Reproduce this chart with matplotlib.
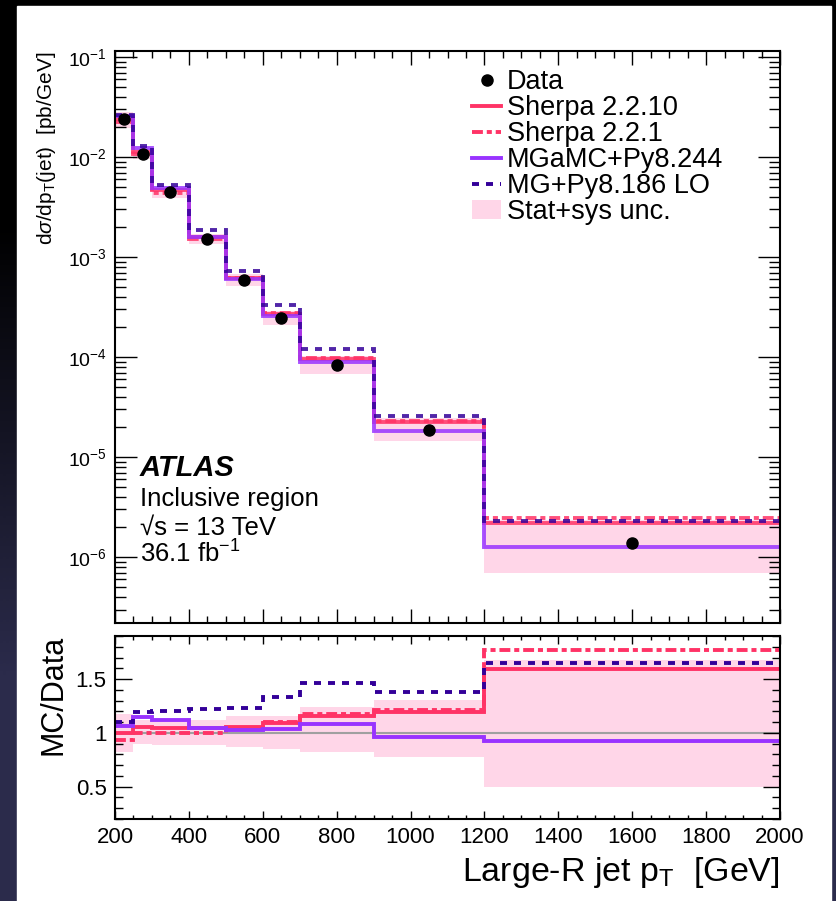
import numpy as np
import matplotlib
matplotlib.use("Agg")
import matplotlib.pyplot as plt
from matplotlib.colors import LinearSegmentedColormap
from matplotlib.lines import Line2D
from matplotlib.patches import Patch, Rectangle
from matplotlib.ticker import MultipleLocator, FuncFormatter

plt.rcParams['font.family'] = ['Liberation Sans', 'DejaVu Sans']
plt.rcParams['mathtext.fontset'] = 'custom'
plt.rcParams['mathtext.rm'] = 'Liberation Sans'
plt.rcParams['mathtext.it'] = 'Liberation Sans:italic'
plt.rcParams['mathtext.bf'] = 'Liberation Sans:bold'

# large-R jet pT bins [GeV]
bin_edges = [200, 250, 300, 400, 500, 600, 700, 900, 1200, 2000]
bin_centres = [225, 275, 350, 450, 550, 650, 800, 1050, 1600]

# measured cross section [pb/GeV]
data_xsec = [2.4e-2, 1.07e-2, 4.43e-3, 1.51e-3, 5.9e-4, 2.49e-4, 8.3e-5, 1.88e-5, 1.39e-6]

# MC / Data
ratio_sherpa2210 = [1.00, 1.055, 1.05, 1.05, 1.055, 1.095, 1.16, 1.19, 1.59]
ratio_sherpa221 = [0.93, 1.00, 0.995, 1.00, 1.04, 1.10, 1.18, 1.21, 1.77]
ratio_mgamc = [1.065, 1.15, 1.12, 1.045, 1.03, 1.04, 1.08, 0.965, 0.92]
ratio_mglo = [1.105, 1.195, 1.20, 1.225, 1.23, 1.33, 1.46, 1.38, 1.65]

# stat+sys uncertainty (relative to data)
unc_up = [1.18, 1.12, 1.11, 1.12, 1.155, 1.16, 1.24, 1.305, 1.68]
unc_down = [0.82, 0.90, 0.89, 0.89, 0.87, 0.85, 0.82, 0.775, 0.50]

labels = ["Data", "Sherpa 2.2.10", "Sherpa 2.2.1", "MGaMC+Py8.244", "MG+Py8.186 LO", "Stat+sys unc."]

red = '#ff3366'
purple = '#9933ff'
navy = '#330099'
pink = '#ffd6e8'
lw = 2.8

data = np.array(data_xsec)
models = [
    (ratio_sherpa2210, red, '-'),
    (ratio_sherpa221, red, (0, (2.8, 1.0, 1.3, 1.0))),
    (ratio_mgamc, purple, '-'),
    (ratio_mglo, navy, (0, (1.8, 1.8))),
]

fig = plt.figure(figsize=(8.36, 9.01), dpi=100)

# dark slide background with the white plot page on top
bg = fig.add_axes([0, 0, 1, 1], zorder=-10)
cmap = LinearSegmentedColormap.from_list('bg', ['#000000', '#2b2b4b'])
bg.imshow([[0], [1]], aspect='auto', cmap=cmap, extent=[0, 1, 0, 1], interpolation='bilinear')
bg.add_patch(Rectangle((17 / 836, 0), (831 - 17) / 836, 895 / 901, transform=bg.transAxes,
                       color='white'))
bg.set_xlim(0, 1)
bg.set_ylim(0, 1)
bg.axis('off')

ax1 = fig.add_axes([115 / 836, (901 - 623) / 901, 665 / 836, 572 / 901])
ax2 = fig.add_axes([115 / 836, (901 - 819) / 901, 665 / 836, 183 / 901])

# ---- upper panel
ax1.stairs(data * np.array(unc_up), bin_edges, baseline=data * np.array(unc_down),
           fill=True, color=pink, lw=0, zorder=1)
for ratio, col, ls in models:
    ax1.stairs(data * np.array(ratio), bin_edges, baseline=None, color=col, lw=lw,
               ls=ls, alpha=0.85, zorder=2)
ax1.plot(bin_centres, data, 'o', color='black', ms=8, zorder=5)

ax1.set_yscale('log')
ax1.set_xlim(200, 2000)
ax1.set_ylim(2.2e-7, 0.115)
ax1.xaxis.set_major_locator(MultipleLocator(200))
ax1.xaxis.set_minor_locator(MultipleLocator(50))
ax1.tick_params(which='both', direction='in', top=True, right=True, labelbottom=False,
                width=1.0, labelsize=14, pad=6)
ax1.tick_params(axis='x', which='major', length=10)
ax1.tick_params(axis='x', which='minor', length=5)
ax1.tick_params(axis='y', which='major', length=16)
ax1.tick_params(axis='y', which='minor', length=8)

handles = [Line2D([], [], marker='o', ls='none', color='black', ms=8)]
for ratio, col, ls in models:
    handles.append(Line2D([], [], color=col, lw=lw, ls=ls))
handles.append(Patch(facecolor=pink, edgecolor='none'))
ax1.legend(handles, labels, loc='upper left', bbox_to_anchor=(472 / 836, (901 - 69) / 901),
           bbox_transform=fig.transFigure, frameon=False, fontsize=19.5, borderpad=0,
           borderaxespad=0, handlelength=1.08, handletextpad=0.22, labelspacing=0.0,
           handleheight=0.66)

fig.text(140 / 836, (901 - 476) / 901, "ATLAS", fontsize=21, fontweight='bold',
         fontstyle='italic', va='baseline')
fig.text(140 / 836, (901 - 506) / 901, "Inclusive region", fontsize=18.5, va='baseline')
fig.text(140 / 836, (901 - 535) / 901, "\u221as = 13 TeV", fontsize=18.5, va='baseline')
fig.text(140 / 836, (901 - 563) / 901, r"36.1 fb$^{-1}$", fontsize=18.5, va='baseline')

fig.text(47 / 836, (901 - 52) / 901, r"d$\sigma$/dp$_{\mathrm{T}}$(jet)  [pb/GeV]",
         rotation=90, ha='center', va='top', fontsize=15)

# ---- ratio panel
ax2.stairs(unc_up, bin_edges, baseline=unc_down, fill=True, color=pink, lw=0, zorder=1)
ax2.axhline(1, color='#a0a0a0', lw=1.5, zorder=1.5)
for ratio, col, ls in models:
    ax2.stairs(ratio, bin_edges, baseline=None, color=col, lw=lw, ls=ls, zorder=2)

ax2.set_xlim(200, 2000)
ax2.set_ylim(0.2, 1.9)
ax2.xaxis.set_major_locator(MultipleLocator(200))
ax2.xaxis.set_minor_locator(MultipleLocator(50))
ax2.yaxis.set_major_locator(MultipleLocator(0.5))
ax2.yaxis.set_minor_locator(MultipleLocator(0.1))
ax2.yaxis.set_major_formatter(FuncFormatter(lambda v, p: f"{v:g}"))
ax2.tick_params(which='both', direction='in', top=True, right=True, width=1.0,
                labelsize=16, pad=6)
ax2.tick_params(axis='x', which='major', length=6)
ax2.tick_params(axis='x', which='minor', length=3)
ax2.tick_params(axis='y', which='major', length=12)
ax2.tick_params(axis='y', which='minor', length=6)

fig.text(53 / 836, (901 - 695) / 901, "MC/Data", rotation=90, ha='center', va='center',
         fontsize=22)
fig.text(780 / 836, (901 - 881) / 901, r"Large-R jet p$_{\mathrm{T}}$  [GeV]", ha='right',
         va='baseline', fontsize=24.5)

for ax in (ax1, ax2):
    for sp in ax.spines.values():
        sp.set_linewidth(1.5)

fig.savefig("out.png", dpi=100)
